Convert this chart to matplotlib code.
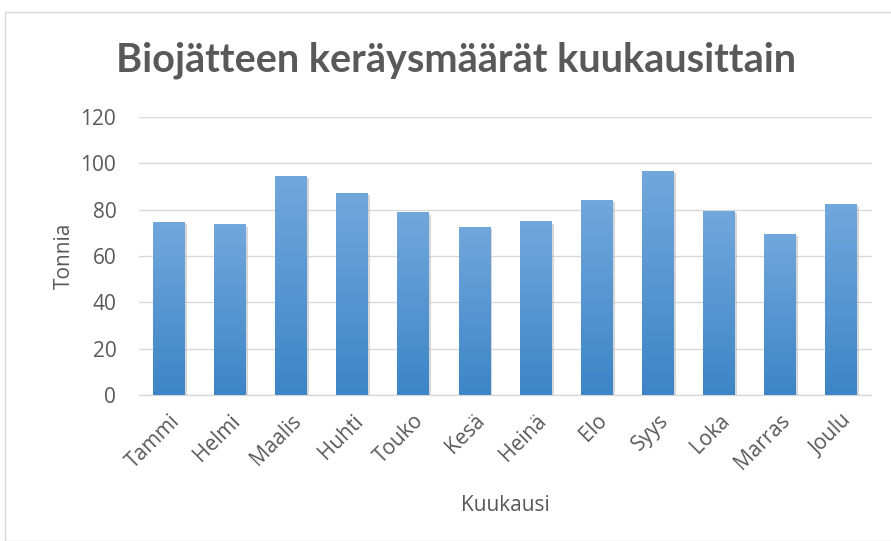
import matplotlib.pyplot as plt
import matplotlib.patheffects as pe
from matplotlib.colors import LinearSegmentedColormap
from matplotlib.patches import Rectangle
import numpy as np

months = ["Tammi", "Helmi", "Maalis", "Huhti", "Touko", "Kesä",
          "Heinä", "Elo", "Syys", "Loka", "Marras", "Joulu"]
tonnes = [74.5, 73.6, 94.5, 87.1, 78.8, 72.5, 74.9, 84.0, 96.7, 79.3, 69.7, 82.3]
y_ticks = [0, 20, 40, 60, 80, 100, 120]

plt.rcParams["font.family"] = ["Open Sans", "DejaVu Sans"]
text_col = "#595959"

fig = plt.figure(figsize=(8.91, 5.41), dpi=100)
# chart frame
fig.patches.append(Rectangle((5 / 891, 0), 1, 1 - 12 / 541, transform=fig.transFigure,
                             fill=False, edgecolor="#d9d9d9", linewidth=1.0))

ax = fig.add_axes([138.5 / 891, 1 - 395 / 541, 733 / 891, 278 / 541])
x = np.arange(len(months))
bars = ax.bar(x, tonnes, width=0.52, color="#5b9bd5", zorder=3,
              path_effects=[pe.SimplePatchShadow(offset=(1.5, -1.5), shadow_rgbFace="#b0b0b0", alpha=0.5),
                            pe.Normal()])

# vertical gradient, lighter at the top
cmap = LinearSegmentedColormap.from_list("bar", ["#3d85c6", "#72a7dc"])
grad = np.linspace(0, 1, 256).reshape(-1, 1)
for b in bars:
    bx, by, bw, bh = b.get_x(), b.get_y(), b.get_width(), b.get_height()
    im = ax.imshow(grad, cmap=cmap, extent=(bx, bx + bw, by, by + bh), origin="lower",
                   aspect="auto", zorder=4)
    im.set_clip_path(b)

ax.set_xlim(-0.5, len(months) - 0.5)
ax.set_ylim(0, 120)
ax.set_yticks(y_ticks)
ax.grid(axis="y", color="#d9d9d9", linewidth=1.0, zorder=0)
for s in ["top", "right", "left"]:
    ax.spines[s].set_visible(False)
ax.spines["bottom"].set_color("#d9d9d9")
ax.spines["bottom"].set_linewidth(1.0)
ax.tick_params(axis="both", length=0, colors=text_col, labelsize=15)
ax.tick_params(axis="y", pad=16)
ax.set_xticks(x)
ax.set_xticklabels(months, rotation=45, ha="right", rotation_mode="anchor")
ax.tick_params(axis="x", pad=11)

ax.set_ylabel("Tonnia", color=text_col, fontsize=15, labelpad=4)
ax.set_xlabel("Kuukausi", color=text_col, fontsize=15, labelpad=15)

fig.text(456 / 891, 1 - 60 / 541, "Biojätteen keräysmäärät kuukausittain", ha="center", va="center",
         fontsize=28.5, fontweight="bold", color=text_col, family=["Lato", "DejaVu Sans"])

fig.savefig("out.png", dpi=100)
